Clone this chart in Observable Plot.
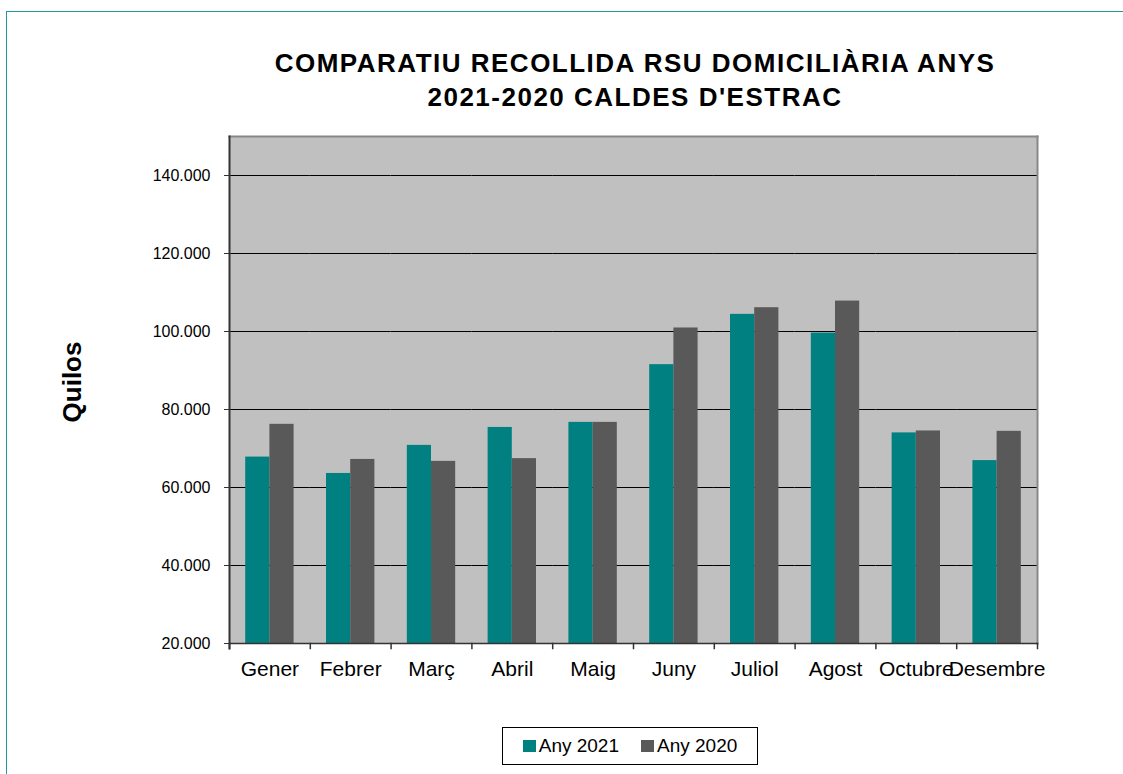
<!DOCTYPE html>
<html>
<head>
<meta charset="utf-8">
<script src="https://cdn.jsdelivr.net/npm/d3@7"></script>
<script src="https://cdn.jsdelivr.net/npm/@observablehq/plot@0.6"></script>
<style>
  html, body { margin: 0; padding: 0; background: #fff; }
  body { width: 1123px; height: 774px; position: relative; overflow: hidden; font-family: "Liberation Sans", Arial, sans-serif; }
  #border { position: absolute; left: 6px; top: 11px; width: 1200px; height: 900px; border: 1px solid #1e9b9b; }
  #title { position: absolute; left: 185px; width: 900px; top: 47px; text-align: center; font-weight: bold; font-size: 26px; letter-spacing: 1.5px; line-height: 33.5px; color: #000; }
  #ylabel { position: absolute; left: 72px; top: 382px; transform: translate(-50%, -50%) rotate(-90deg); font-weight: bold; font-size: 26px; color: #000; white-space: nowrap; }
  #chart { position: absolute; left: 0; top: 0; }
  #legend { position: absolute; left: 502px; top: 727px; width: 254px; height: 36px; border: 1px solid #000; display: flex; align-items: center; justify-content: center; gap: 22px; font-size: 19px; background: #fff; }
  .item { display: flex; align-items: center; gap: 3px; }
  .sw { width: 13px; height: 12px; display: inline-block; }
</style>
</head>
<body>
<div id="border"></div>
<div id="title">COMPARATIU RECOLLIDA RSU DOMICILIÀRIA ANYS<br>2021-2020 CALDES D'ESTRAC</div>
<div id="ylabel">Quilos</div>
<div id="chart"></div>
<div id="legend"></div>
<script>
const months = ["Gener", "Febrer", "Març", "Abril", "Maig", "Juny", "Juliol", "Agost", "Octubre", "Desembre"];
const series = ["Any 2021", "Any 2020"];
const values2021 = [67800, 63600, 70800, 75400, 76700, 91500, 104400, 99600, 74000, 66900];
const values2020 = [76200, 67200, 66700, 67400, 76700, 100900, 106100, 107800, 74500, 74400];
const colors = ["#008080", "#595959"];
const yTicks = [20000, 40000, 60000, 80000, 100000, 120000, 140000];
const yDomain = [20000, 150000];

const rows = [];
months.forEach((m, i) => {
  rows.push({month: m, series: series[0], value: values2021[i]});
  rows.push({month: m, series: series[1], value: values2020[i]});
});

const fmt = d3.formatLocale({decimal: ",", thousands: ".", grouping: [3], currency: ["", "€"]}).format(",d");

const plotH = 700;
const mTop = 136, mBottom = 57, mLeft = 229, mRight = 86;
const cellH = plotH - mTop - mBottom;

const chart = Plot.plot({
  width: 1123,
  height: plotH,
  marginTop: mTop,
  marginBottom: mBottom,
  marginLeft: mLeft,
  marginRight: mRight,
  style: {fontFamily: "'Liberation Sans', Arial, sans-serif", color: "#000", background: "transparent"},
  fx: {domain: months, padding: 0, round: false},
  x: {domain: series, paddingInner: 0, paddingOuter: 0.67, round: false, axis: null},
  y: {domain: yDomain},
  color: {domain: series, range: colors},
  marks: [
    Plot.frame({facet: "super", fill: "#c0c0c0", stroke: null}),
    Plot.gridY(yTicks.slice(1), {stroke: "#000", strokeOpacity: 1, strokeWidth: 1}),
    Plot.barY(rows, {fx: "month", x: "series", y1: yDomain[0], y2: "value", fill: "series"}),
    Plot.frame({facet: "super", anchor: "top", stroke: "#888", strokeWidth: 2}),
    Plot.frame({facet: "super", anchor: "right", stroke: "#888", strokeWidth: 2}),
    Plot.frame({facet: "super", anchor: "bottom", stroke: "#333", strokeWidth: 1.5}),
    Plot.frame({anchor: "left", insetTop: cellH, insetBottom: -5, stroke: "#333", strokeWidth: 1.5}),
    Plot.frame({facet: "super", anchor: "right", insetTop: cellH, insetBottom: -5, stroke: "#333", strokeWidth: 1.5}),
    Plot.frame({facet: "super", anchor: "left", insetBottom: -5, stroke: "#333", strokeWidth: 2}),
    Plot.axisY({ticks: yTicks, tickFormat: fmt, tickSize: 5, tickPadding: 14, fontSize: 16, label: null, stroke: "#333"}),
    Plot.axisFx({anchor: "bottom", tickSize: 0, tickPadding: 18, fontSize: 21, label: null})
  ]
});
document.getElementById("chart").appendChild(chart);

const legend = document.getElementById("legend");
series.forEach((s, i) => {
  const item = document.createElement("span");
  item.className = "item";
  const sw = document.createElement("span");
  sw.className = "sw";
  sw.style.background = colors[i];
  const t = document.createElement("span");
  t.textContent = s;
  item.appendChild(sw);
  item.appendChild(t);
  legend.appendChild(item);
});
</script>
</body>
</html>
